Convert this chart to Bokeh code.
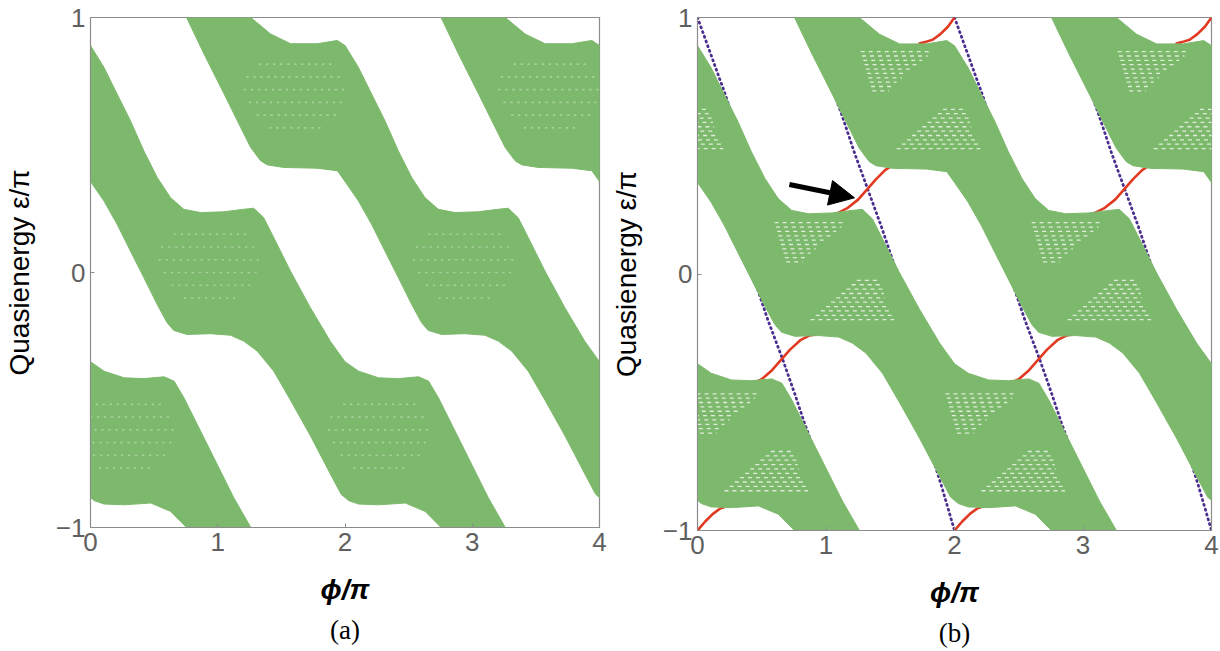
import math
from bokeh.plotting import figure
from bokeh.layouts import row
from bokeh.models import FixedTicker, Title, Arrow, NormalHead
from bokeh.embed import file_html
from bokeh.resources import INLINE

NaN = float("nan")

# ---------------- data ----------------
phi_ticks = [0, 1, 2, 3, 4]
eps_ticks = [-1, 0, 1]
eps_tick_text = {-1: "\u22121", 0: "0", 1: "1"}

# one quasienergy band (unwrapped), upper and lower edge, phi/pi in [0, 4]
band_upper_phi = [0.00, 0.105, 0.209, 0.314, 0.419, 0.524, 0.628, 0.733, 0.864, 1.047, 1.204, 1.283,
                  1.361, 1.44, 1.571, 1.728, 1.885, 2.00, 2.107, 2.264, 2.421, 2.578, 2.657, 2.735,
                  2.866, 2.997, 3.128, 3.26, 3.416, 3.573, 3.78, 3.94, 4.00]
band_upper_eps = [0.89, 0.805, 0.70, 0.595, 0.477, 0.373, 0.294, 0.248, 0.235, 0.238, 0.248, 0.252,
                  0.215, 0.137, 0.006, -0.138, -0.27, -0.35, -0.387, -0.413, -0.416, -0.409, -0.426, -0.492,
                  -0.623, -0.754, -0.885, -1.0, -1.065, -1.103, -1.103, -1.09, -1.11]
band_lower_phi = [0.00, 0.105, 0.209, 0.314, 0.419, 0.524, 0.602, 0.654, 0.759, 0.942, 1.10, 1.204,
                  1.31, 1.44, 1.571, 1.728, 1.885, 1.97, 2.03, 2.107, 2.264, 2.474, 2.63, 2.755,
                  2.892, 3.05, 3.18, 3.259, 3.337, 3.39, 3.52, 3.78, 3.94, 4.00]
band_lower_eps = [0.357, 0.281, 0.189, 0.084, -0.02, -0.125, -0.197, -0.227, -0.243, -0.24, -0.246, -0.269,
                  -0.308, -0.387, -0.50, -0.64, -0.79, -0.87, -0.895, -0.908, -0.911, -0.904, -0.937, -1.0,
                  -1.143, -1.30, -1.431, -1.51, -1.562, -1.578, -1.588, -1.591, -1.601, -1.643]
# where copies of that band appear (shift in phi/pi, shift in eps/pi)
band_copy_dphi = [0, 0, 2, -2, -2]
band_copy_deps = [0, 2, 0, 0, 2]

# plateaus (shift in phi/pi, shift in eps/pi) that carry the inner texture
plateau_dphi = [0.0, 0.67, -0.67, 1.33, 2.0, 2.67, -1.33]
plateau_deps = [0.0, 0.667, -0.667, -0.667, 0.0, 0.667, 0.667]

# panel (a): faint white dot rows in the middle of one plateau
dots_eps = [0.15, 0.10, 0.05, 0.0, -0.05, -0.10]
dots_phi0 = [0.66, 0.56, 0.54, 0.58, 0.64, 0.74]
dots_phi1 = [1.26, 1.30, 1.32, 1.30, 1.26, 1.18]

# panel (b): white hatch rows inside one plateau (upper and lower cluster)
hatch_upper_eps = [0.200, 0.183, 0.166, 0.149, 0.132, 0.115, 0.098, 0.081, 0.064, 0.047]
hatch_upper_phi0 = [0.60, 0.61, 0.62, 0.63, 0.64, 0.65, 0.66, 0.67, 0.68, 0.69]
hatch_upper_phi1 = [1.16, 1.12, 1.08, 1.04, 1.00, 0.96, 0.92, 0.88, 0.85, 0.82]
hatch_lower_eps = [-0.025, -0.042, -0.059, -0.076, -0.093, -0.110, -0.127, -0.144, -0.161, -0.178]
hatch_lower_phi0 = [1.24, 1.20, 1.16, 1.12, 1.08, 1.04, 1.00, 0.96, 0.92, 0.88]
hatch_lower_phi1 = [1.42, 1.43, 1.44, 1.45, 1.46, 1.47, 1.48, 1.50, 1.52, 1.53]

# edge states of panel (b): red (rising) and purple (falling), parts seen in the gaps
red_phi = [0.00, 0.06, 0.12, 0.18, 0.24, 0.28, NaN,
           0.36, 0.42, 0.50, 0.58, 0.65, 0.72, 0.80, 0.87, 0.93, NaN,
           1.05, 1.09, 1.17, 1.25, 1.32, 1.39, 1.46, 1.53, 1.60, NaN,
           1.72, 1.77, 1.83, 1.89, 1.95, 2.00, NaN,
           2.00, 2.06, 2.12, 2.18, 2.24, 2.28, NaN,
           2.36, 2.42, 2.50, 2.58, 2.65, 2.72, 2.80, 2.87, 2.93, NaN,
           3.05, 3.09, 3.17, 3.25, 3.32, 3.39, 3.46, 3.53, 3.60, NaN,
           3.72, 3.77, 3.83, 3.89, 3.95, 4.00]
red_eps = [-1.0, -0.965, -0.935, -0.913, -0.904, -0.90, NaN,
           -0.44, -0.43, -0.41, -0.375, -0.335, -0.295, -0.258, -0.24, -0.235, NaN,
           0.232, 0.237, 0.258, 0.29, 0.33, 0.37, 0.405, 0.428, 0.438, NaN,
           0.898, 0.904, 0.913, 0.935, 0.965, 1.0, NaN,
           -1.0, -0.965, -0.935, -0.913, -0.904, -0.90, NaN,
           -0.44, -0.43, -0.41, -0.375, -0.335, -0.295, -0.258, -0.24, -0.235, NaN,
           0.232, 0.237, 0.258, 0.29, 0.33, 0.37, 0.405, 0.428, 0.438, NaN,
           0.898, 0.904, 0.913, 0.935, 0.965, 1.0]
purple_phi = [0.0, 0.104, 0.221, 0.26, NaN,
              0.40, 0.442, 0.546, 0.663, 0.754, 0.832, 0.897, 0.93, NaN,
              1.08, 1.118, 1.222, 1.326, 1.43, 1.534, 1.573, 1.60, NaN,
              1.76, 1.794, 1.899, 2.0, NaN,
              2.0, 2.104, 2.221, 2.26, NaN,
              2.40, 2.442, 2.546, 2.663, 2.754, 2.832, 2.897, 2.93, NaN,
              3.08, 3.118, 3.222, 3.326, 3.43, 3.534, 3.573, 3.60, NaN,
              3.76, 3.794, 3.899, 4.0]
purple_eps = [1.0, 0.856, 0.693, 0.63, NaN,
              0.05, -0.021, -0.177, -0.333, -0.463, -0.58, -0.671, -0.72, NaN,
              0.68, 0.628, 0.472, 0.329, 0.186, 0.031, -0.008, -0.05, NaN,
              -0.60, -0.658, -0.827, -1.0, NaN,
              1.0, 0.856, 0.693, 0.63, NaN,
              0.05, -0.021, -0.177, -0.333, -0.463, -0.58, -0.671, -0.72, NaN,
              0.68, 0.628, 0.472, 0.329, 0.186, 0.031, -0.008, -0.05, NaN,
              -0.60, -0.658, -0.827, -1.0]
arrow_tail = (0.715, 0.349)
arrow_tip = (1.222, 0.297)

GREEN = "#7db96c"
TICK_GRAY = "#5f5f5f"
FRAME_GRAY = "#8c8c8c"


def texture_rows(eps_list, phi0_list, phi1_list):
    x0, x1, y0 = [], [], []
    for dphi, deps in zip(plateau_dphi, plateau_deps):
        for e, a, b in zip(eps_list, phi0_list, phi1_list):
            x0.append(a + dphi)
            x1.append(b + dphi)
            y0.append(e + deps)
    return x0, x1, y0


def make_panel(fw, fh, bl, br, bt, bb, caption, edge_states):
    p = figure(frame_width=fw, frame_height=fh, x_range=(0, 4), y_range=(-1, 1),
               output_backend="svg", toolbar_location=None,
               min_border_left=bl, min_border_right=br, min_border_top=bt, min_border_bottom=bb,
               background_fill_color="white", border_fill_color="white")
    p.xgrid.visible = False
    p.ygrid.visible = False
    p.outline_line_color = FRAME_GRAY
    p.outline_line_width = 1.2

    if edge_states:
        p.line(purple_phi, purple_eps, line_color="#4b2d8f", line_width=2.8,
               line_dash="1 4", line_cap="round")
        p.line(red_phi, red_eps, line_color="#e03a22", line_width=2.6)

    xs, ys = [], []
    for dphi, deps in zip(band_copy_dphi, band_copy_deps):
        xs.append([v + dphi for v in band_upper_phi] + [v + dphi for v in reversed(band_lower_phi)])
        ys.append([v + deps for v in band_upper_eps] + [v + deps for v in reversed(band_lower_eps)])
    p.patches(xs, ys, fill_color=GREEN, line_color=GREEN, line_width=1)

    if edge_states:
        x0, x1, y0 = texture_rows(hatch_upper_eps + hatch_lower_eps,
                                  hatch_upper_phi0 + hatch_lower_phi0,
                                  hatch_upper_phi1 + hatch_lower_phi1)
        p.segment(x0=x0, y0=y0, x1=x1, y1=y0, line_color="white", line_width=1.3,
                  line_alpha=0.75, line_dash="4 4")
        p.add_layout(Arrow(end=NormalHead(size=25, fill_color="black", line_color="black"),
                           x_start=arrow_tail[0], y_start=arrow_tail[1],
                           x_end=arrow_tip[0], y_end=arrow_tip[1],
                           line_color="black", line_width=5))
    else:
        x0, x1, y0 = texture_rows(dots_eps, dots_phi0, dots_phi1)
        p.segment(x0=x0, y0=y0, x1=x1, y1=y0, line_color="white", line_width=1.6,
                  line_alpha=0.35, line_dash="1 6", line_cap="round")

    for ax in (p.xaxis[0], p.yaxis[0]):
        ax.axis_line_color = FRAME_GRAY
        ax.major_tick_line_color = FRAME_GRAY
        ax.major_tick_in = 4
        ax.major_tick_out = 0
        ax.minor_tick_line_color = None
        ax.major_label_text_color = TICK_GRAY
        ax.major_label_text_font = "Liberation Sans"
        ax.major_label_text_font_size = "26px"
        ax.axis_label_text_color = "black"
        ax.axis_label_text_font = "Liberation Sans"
    p.xaxis.ticker = FixedTicker(ticks=phi_ticks)
    p.yaxis.ticker = FixedTicker(ticks=eps_ticks)
    p.yaxis.major_label_overrides = eps_tick_text
    p.xaxis.major_label_standoff = 5
    p.yaxis.major_label_standoff = 5

    p.yaxis.axis_label = "Quasienergy \u03b5/\u03c0"
    p.yaxis.axis_label_text_font_size = "28px"
    p.yaxis.axis_label_text_font_style = "normal"
    p.yaxis.axis_label_standoff = 18

    p.xaxis.axis_label = "\u03d5/\u03c0"
    p.xaxis.axis_label_text_font_size = "28px"
    p.xaxis.axis_label_text_font_style = "bold italic"
    p.xaxis.axis_label_standoff = 20

    p.add_layout(Title(text=caption, align="center", text_font="Liberation Serif",
                       text_font_size="27px", text_font_style="normal", text_color="black",
                       standoff=10), "below")
    return p


pa = make_panel(509, 510, 87, 8, 17, 124, "(a)", False)
pb = make_panel(514, 513, 89, 13, 15, 123, "(b)", True)

layout = row(pa, pb)
open("out.html", "w").write(file_html(layout, INLINE))
